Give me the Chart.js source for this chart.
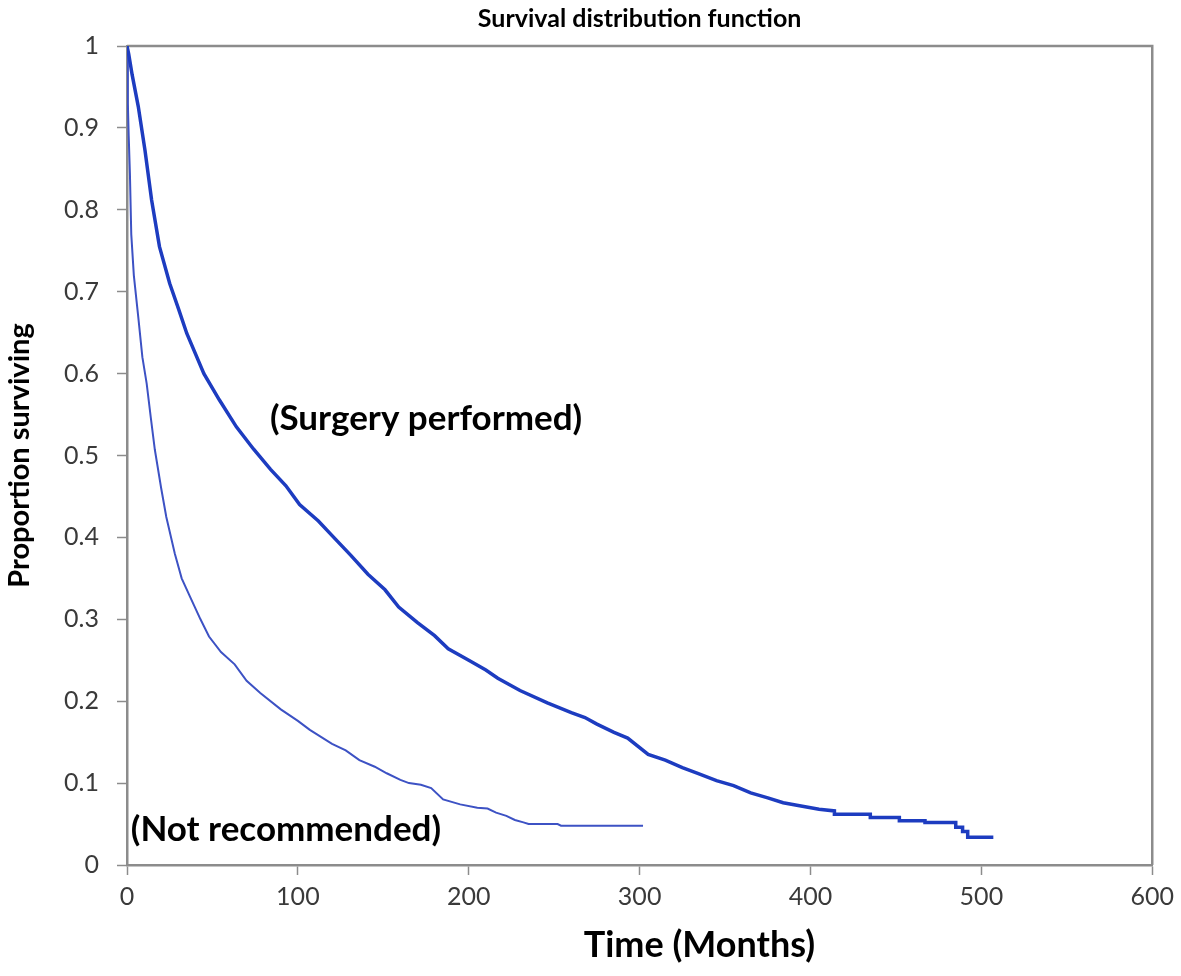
<!DOCTYPE html>
<html lang="en">
<head>
<meta charset="UTF-8">
<title>Survival distribution function</title>
<script src="https://cdn.jsdelivr.net/npm/chart.js@4.4.5/dist/chart.umd.min.js"></script>
<style>
    body { margin: 0; background: #fff; }
</style>
</head>
<body>
<canvas id="myChart" width="1181" height="976"></canvas>

<script>
    // (months, proportion surviving)
    const surgeryMonths = [0, 1, 3, 6.6, 10.5, 14.4, 19, 25, 30, 35, 45, 54, 64, 74, 84, 93, 101, 112, 121, 131,
        141, 151, 159, 170, 180, 188, 200, 210, 217, 230, 246, 260, 268, 275, 285, 293, 305, 315, 325, 334,
        345, 355, 365, 375, 384, 392, 405, 414, 414, 435, 435, 452, 452, 467, 467, 485, 485, 489, 489, 492, 492, 507];
    const surgerySurv = [1, 0.99, 0.965, 0.926, 0.873, 0.812, 0.755, 0.71, 0.68, 0.649, 0.60, 0.568, 0.535, 0.508, 0.483, 0.463, 0.44, 0.42, 0.40, 0.378,
        0.355, 0.336, 0.315, 0.296, 0.28, 0.264, 0.25, 0.238, 0.228, 0.213, 0.198, 0.186, 0.18, 0.172, 0.162, 0.155, 0.135, 0.128, 0.119, 0.112,
        0.103, 0.097, 0.088, 0.082, 0.076, 0.073, 0.068, 0.066, 0.062, 0.062, 0.058, 0.058, 0.054, 0.054, 0.052, 0.052, 0.046, 0.046, 0.041, 0.041, 0.034, 0.034];

    const notRecMonths = [0, 0.5, 1, 1.7, 2.5, 4, 6.6, 9, 11.5, 14, 16.3, 20, 23, 28, 32, 37, 43, 48, 55, 63,
        70, 78, 90, 100, 107, 120, 128, 136, 145, 152, 160, 165, 172, 178, 185, 195, 205, 211, 216, 222,
        227, 232, 235, 252, 254, 302];
    const notRecSurv = [1, 0.93, 0.89, 0.845, 0.77, 0.72, 0.669, 0.62, 0.588, 0.545, 0.507, 0.46, 0.425, 0.38, 0.35, 0.327, 0.30, 0.279, 0.26, 0.245,
        0.225, 0.21, 0.19, 0.176, 0.165, 0.148, 0.14, 0.128, 0.12, 0.112, 0.104, 0.10, 0.098, 0.094, 0.08, 0.074, 0.07, 0.069, 0.064, 0.06,
        0.055, 0.052, 0.05, 0.05, 0.048, 0.048];

    const xTickLabels = ['0', '100', '200', '300', '400', '500', '600'];
    const yTickLabels = ['0', '0.1', '0.2', '0.3', '0.4', '0.5', '0.6', '0.7', '0.8', '0.9', '1'];

    const axisGrey = '#8c8c8c';
    const fontName = 'Lato, "Open Sans", sans-serif';

    function toPoints(xs, ys) {
        return xs.map((x, i) => ({x: x, y: ys[i]}));
    }

    const extras = {
        id: 'extras',
        beforeDatasetsDraw(chart) {
            const {ctx, chartArea} = chart;
            ctx.save();
            ctx.strokeStyle = axisGrey;
            ctx.lineWidth = 2.5;
            ctx.beginPath();
            ctx.moveTo(chartArea.left, chartArea.top);
            ctx.lineTo(chartArea.right, chartArea.top);
            ctx.lineTo(chartArea.right, chartArea.bottom);
            ctx.stroke();
            ctx.restore();
        },
        afterDraw(chart) {
            const ctx = chart.ctx;
            const x = chart.scales.x;
            const y = chart.scales.y;
            ctx.save();
            ctx.fillStyle = '#000';
            ctx.textAlign = 'center';
            ctx.textBaseline = 'middle';
            ctx.font = 'bold 35px ' + fontName;
            ctx.fillText('(Surgery performed)', x.getPixelForValue(175), y.getPixelForValue(0.545));
            ctx.fillText('(Not recommended)', x.getPixelForValue(93), y.getPixelForValue(0.043));
            ctx.font = 'bold 36px ' + fontName;
            ctx.fillText('Time (Months)', x.getPixelForValue(335), 945);
            ctx.restore();
        }
    };

    const config = {
        type: 'line',
        data: {
            datasets: [{
                label: 'Surgery performed',
                data: toPoints(surgeryMonths, surgerySurv),
                borderColor: '#1d3cc0',
                borderWidth: 3.5,
                pointRadius: 0,
                tension: 0
            }, {
                label: 'Not recommended',
                data: toPoints(notRecMonths, notRecSurv),
                borderColor: '#3d52c4',
                borderWidth: 2,
                pointRadius: 0,
                tension: 0
            }]
        },
        options: {
            responsive: false,
            animation: false,
            layout: {
                padding: {top: 0, left: 0, right: 24, bottom: 0}
            },
            scales: {
                x: {
                    type: 'linear',
                    min: 0,
                    max: 600,
                    ticks: {
                        stepSize: 100,
                        color: '#3a3a3a',
                        padding: 7,
                        font: {family: fontName, size: 25},
                        callback: (v, i) => xTickLabels[i]
                    },
                    grid: {
                        drawOnChartArea: false,
                        tickLength: 10,
                        tickColor: axisGrey,
                        tickWidth: 1.5
                    },
                    border: {color: axisGrey, width: 2.5},
                    afterFit: s => { s.height = 111; }
                },
                y: {
                    min: 0,
                    max: 1,
                    ticks: {
                        stepSize: 0.1,
                        color: '#3a3a3a',
                        padding: 18,
                        font: {family: fontName, size: 25},
                        callback: (v, i) => yTickLabels[i]
                    },
                    grid: {
                        drawOnChartArea: false,
                        tickLength: 10,
                        tickColor: axisGrey,
                        tickWidth: 1.5
                    },
                    border: {color: axisGrey, width: 2.5},
                    title: {
                        display: true,
                        text: 'Proportion surviving',
                        color: '#000',
                        font: {family: fontName, size: 29, weight: 'bold'},
                        padding: {top: 2, bottom: 0}
                    },
                    afterFit: s => { s.width = 127; }
                }
            },
            plugins: {
                legend: {display: false},
                tooltip: {enabled: false},
                title: {
                    display: true,
                    text: 'Survival distribution function',
                    fullSize: false,
                    color: '#000',
                    font: {family: fontName, size: 25, weight: 'bold'},
                    padding: {top: 4, bottom: 12}
                }
            }
        },
        plugins: [extras]
    };

    const ctx = document.getElementById('myChart').getContext('2d');
    new Chart(ctx, config);
</script>
</body>
</html>
